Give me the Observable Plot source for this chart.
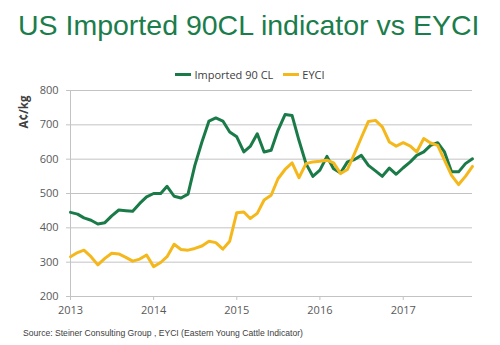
<!DOCTYPE html>
<html>
<head>
<meta charset="utf-8">
<script src="https://cdn.jsdelivr.net/npm/d3@7"></script>
<script src="https://cdn.jsdelivr.net/npm/@observablehq/plot@0.6"></script>
<style>
  html, body { margin: 0; padding: 0; background: #fff; }
  #wrap { position: relative; width: 500px; height: 345px; overflow: hidden; }
  #title { position: absolute; left: 18px; top: 11px; font-family: "Liberation Sans", Arial, sans-serif; font-size: 28.5px; line-height: 1; color: #1b7d4b; white-space: nowrap; }
  #legend { position: absolute; left: 0; top: 65px; width: 500px; text-align: center; font-family: "Open Sans", sans-serif; font-size: 11px; color: #404040; line-height: 14px; }
  #legend .item { display: inline-flex; align-items: center; margin: 0 5px; }
  #legend .sw { display: inline-block; width: 16px; height: 3px; margin-right: 3px; }
  #ylabel { position: absolute; left: 23px; top: 112px; transform: translate(-50%, -50%) rotate(-90deg); font-family: "Open Sans", sans-serif; font-weight: bold; font-size: 11.5px; color: #404040; white-space: nowrap; }
  #chart { position: absolute; left: 0; top: 80px; }
  #source { position: absolute; left: 23px; top: 328px; font-family: "Liberation Sans", Arial, sans-serif; font-size: 8.6px; color: #404040; white-space: nowrap; }
</style>
</head>
<body>
<div id="wrap">
  <div id="title">US Imported 90CL indicator vs EYCI</div>
  <div id="legend"></div>
  <div id="ylabel">A¢/kg</div>
  <div id="chart"></div>
  <div id="source">Source: Steiner Consulting Group , EYCI (Eastern Young Cattle Indicator)</div>
</div>
<script>
const seriesNames = ["Imported 90 CL", "EYCI"];
const seriesColors = ["#1a7b48", "#f5b81c"];
const startMonth = "2013-01";
const imported90CL = [
  445, 440, 429, 422, 411, 415, 435, 452, 450, 448, 471, 490,
  500, 500, 521, 492, 487, 498, 582, 650, 711, 720, 711, 679,
  665, 621, 637, 674, 621, 626, 684, 730, 727, 655, 587, 550,
  568, 608, 572, 560, 592, 599, 611, 582, 566, 550, 574, 556,
  575, 592, 611, 621, 640, 648, 621, 563, 563, 587, 601
];
const eyci = [
  316, 328, 335, 316, 292, 311, 326, 324, 314, 303, 309, 321,
  287, 299, 316, 352, 337, 335, 340, 347, 361, 357, 338, 361,
  444, 446, 427, 442, 481, 495, 543, 570, 589, 546, 587, 592,
  594, 597, 589, 558, 570, 616, 663, 710, 713, 694, 650, 638,
  648, 638, 621, 660, 647, 640, 597, 553, 526, 550, 579
];
const yTicks = [200, 300, 400, 500, 600, 700, 800];

const t0 = d3.utcParse("%Y-%m")(startMonth);
const dates = imported90CL.map((_, i) => d3.utcMonth.offset(t0, i));
const rows1 = imported90CL.map((v, i) => ({date: dates[i], value: v}));
const rows2 = eyci.map((v, i) => ({date: dates[i], value: v}));

// legend
const legend = document.getElementById("legend");
seriesNames.forEach((n, i) => {
  const s = document.createElement("span");
  s.className = "item";
  s.innerHTML = `<span class="sw" style="background:${seriesColors[i]}"></span>${n}`;
  legend.appendChild(s);
});

const gridColor = "#c3c3c3";
const plot = Plot.plot({
  width: 500,
  height: 242,
  marginTop: 10,
  marginBottom: 26,
  marginLeft: 70,
  marginRight: 28,
  style: { fontFamily: "'Open Sans', sans-serif", fontSize: "11px", color: "#595959", background: "transparent" },
  x: { type: "utc", domain: [dates[0], dates[dates.length - 1]] },
  y: { domain: [yTicks[0], yTicks[yTicks.length - 1]] },
  marks: [
    Plot.gridY(yTicks, { stroke: gridColor, strokeOpacity: 1, strokeWidth: 1 }),
    Plot.ruleX([dates[0]], { stroke: gridColor, strokeWidth: 1 }),
    Plot.axisY(yTicks, { tickSize: 4, tickPadding: 8, stroke: gridColor, label: null, fill: "#595959" }),
    Plot.axisX({ ticks: d3.utcYear.every(1), tickFormat: d3.utcFormat("%Y"), tickSize: 4, tickPadding: 6, stroke: gridColor, label: null, fill: "#595959" }),
    Plot.line(rows1, { x: "date", y: "value", stroke: seriesColors[0], strokeWidth: 3, strokeLinejoin: "round" }),
    Plot.line(rows2, { x: "date", y: "value", stroke: seriesColors[1], strokeWidth: 3, strokeLinejoin: "round" })
  ]
});
document.getElementById("chart").appendChild(plot);
</script>
</body>
</html>
